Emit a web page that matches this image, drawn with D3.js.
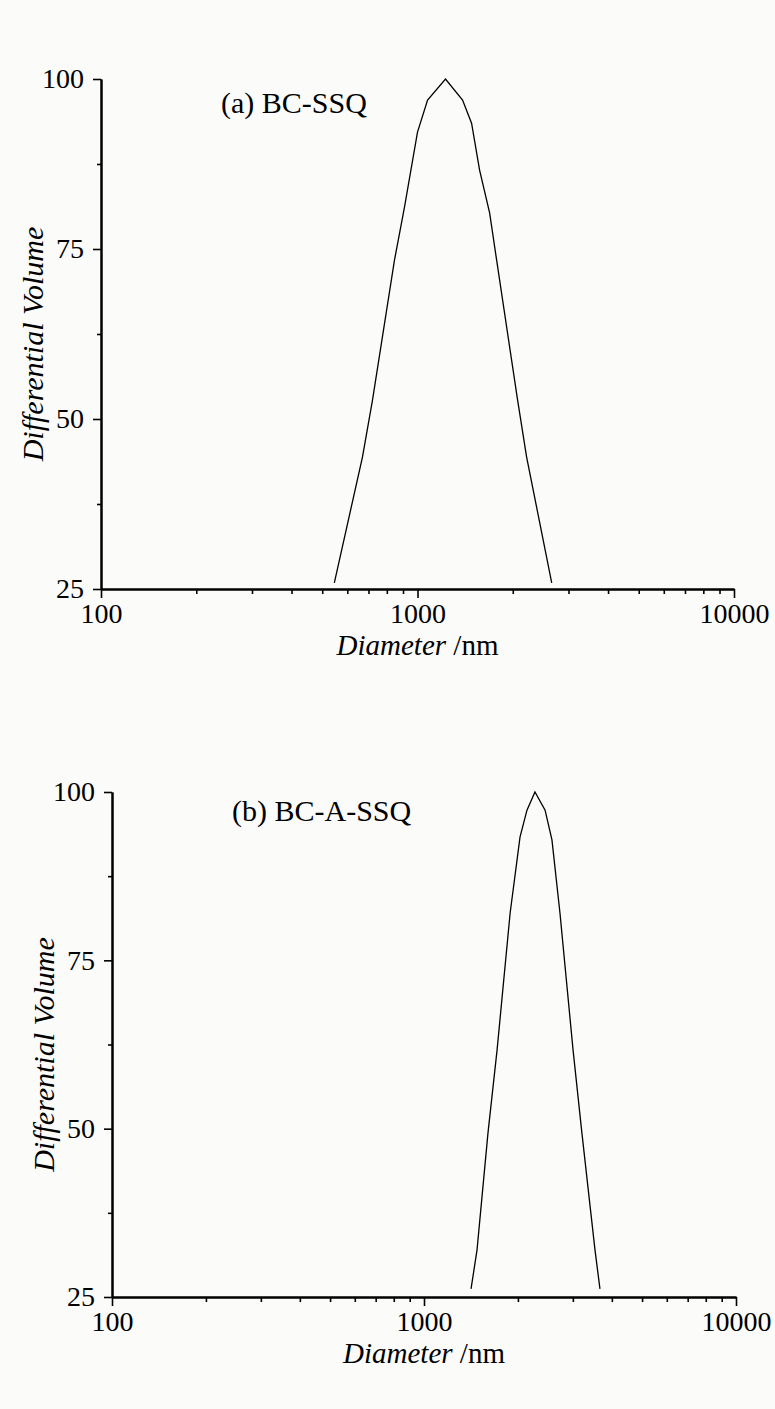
<!DOCTYPE html>
<html>
<head>
<meta charset="utf-8">
<script src="https://cdn.jsdelivr.net/npm/d3@7"></script>
<style>
  html, body { margin: 0; padding: 0; background: #fbfbfa; }
  svg { display: block; }
  text { font-family: "Liberation Serif", "Times New Roman", serif; fill: #000; }
</style>
</head>
<body>
<svg id="chart"></svg>
<script>
// values
const xTickValues = [100, 1000, 10000];
const yTickValues = [25, 50, 75, 100];
const yMinorValues = [37.5, 62.5, 87.5];

const diameterA = [546, 670, 721, 846, 910, 1000, 1076, 1226, 1388, 1482, 1571, 1690, 1778, 2071, 2212, 2655];
const volumeA   = [25.9, 44.4, 52.8, 73.4, 81.2, 92.2, 96.9, 100, 96.9, 93.5, 86.6, 80.3, 73.4, 52.8, 44.4, 25.9];

const diameterB = [1415, 1479, 1603, 1715, 1888, 2031, 2138, 2268, 2444, 2571, 2728, 3004, 3208, 3532, 3664];
const volumeB   = [26.2, 32.0, 49.3, 61.7, 82.0, 93.3, 97.3, 100, 97.3, 92.9, 82.0, 61.7, 49.3, 32.0, 26.2];

const W = 775, H = 1409;

const svg = d3.select('#chart')
  .attr('width', W)
  .attr('height', H);

// panel layout
const panels = [
  { label: '(a) BC-SSQ', diam: diameterA, vol: volumeA,
    left: 101, right: 734, top: 79, bottom: 589, labelX: 221, labelY: 113 },
  { label: '(b) BC-A-SSQ', diam: diameterB, vol: volumeB,
    left: 112, right: 736, top: 792, bottom: 1297, labelX: 232, labelY: 821 }
];

panels.forEach(p => {
  const x = d3.scaleLog().domain([100, 10000]).range([p.left, p.right]);
  const y = d3.scaleLinear().domain([25, 100]).range([p.bottom, p.top]);

  const g = svg.append('g');

  // minor x ticks (2..9 in each decade)
  const minorX = [];
  [100, 1000].forEach(d => { for (let k = 2; k <= 9; k++) minorX.push(d * k); });

  const xAxis = d3.axisBottom(x)
    .tickValues(xTickValues)
    .tickFormat(d3.format('d'))
    .tickSizeInner(9)
    .tickSizeOuter(0)
    .tickPadding(5);

  const xMinor = d3.axisBottom(x)
    .tickValues(minorX)
    .tickFormat('')
    .tickSizeInner(5)
    .tickSizeOuter(0);

  const yAxis = d3.axisLeft(y)
    .tickValues(yTickValues)
    .tickSizeInner(8)
    .tickSizeOuter(0)
    .tickPadding(9);

  const yMinor = d3.axisLeft(y)
    .tickValues(yMinorValues)
    .tickFormat('')
    .tickSizeInner(4)
    .tickSizeOuter(0);

  g.append('g').attr('transform', `translate(0,${p.bottom})`).call(xMinor);
  g.append('g').attr('transform', `translate(0,${p.bottom})`).call(xAxis);
  g.append('g').attr('transform', `translate(${p.left},0)`).call(yMinor);
  g.append('g').attr('transform', `translate(${p.left},0)`).call(yAxis);

  g.selectAll('.domain').attr('stroke', '#000').attr('stroke-width', 2);
  g.selectAll('.tick line').attr('stroke', '#000').attr('stroke-width', 1.6);
  g.selectAll('.tick text')
    .style('font-family', '"Liberation Serif", serif')
    .style('font-size', '28px')
    .attr('fill', '#000');

  // curve
  const line = d3.line()
    .x((d, i) => x(p.diam[i]))
    .y((d, i) => y(p.vol[i]));

  g.append('path')
    .datum(p.vol)
    .attr('d', line)
    .attr('fill', 'none')
    .attr('stroke', '#000')
    .attr('stroke-width', 1.3);

  // panel label
  g.append('text')
    .attr('x', p.labelX)
    .attr('y', p.labelY)
    .style('font-size', '30px')
    .text(p.label);

  // x axis title
  const xt = g.append('text')
    .attr('x', (p.left + p.right) / 2)
    .attr('y', p.bottom + 66)
    .attr('text-anchor', 'middle')
    .style('font-size', '29px');
  xt.append('tspan').style('font-style', 'italic').text('Diameter');
  xt.append('tspan').text(' /nm');

  // y axis title
  g.append('text')
    .attr('transform', `translate(${p.left - 58},${(p.top + p.bottom) / 2 + 10}) rotate(-90)`)
    .attr('text-anchor', 'middle')
    .style('font-size', '30px')
    .style('font-style', 'italic')
    .text('Differential Volume');
});
</script>
</body>
</html>
